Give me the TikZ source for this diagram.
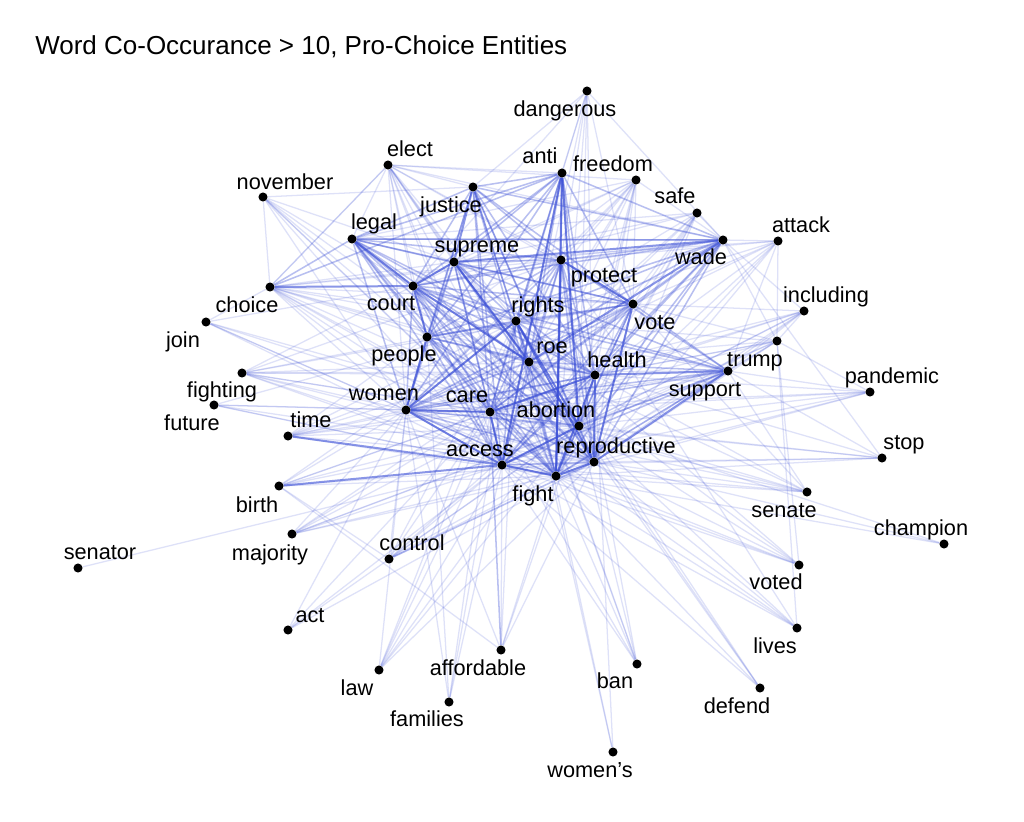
\documentclass[tikz,border=0pt]{standalone}
\usepackage{fontspec}
\setmainfont{Liberation Sans}
\usetikzlibrary{backgrounds}
\definecolor{edgeblue}{RGB}{60,80,215}
\tikzset{
  dot/.style={circle,fill=black,inner sep=0pt,minimum size=6.8pt},
  lbl/.style={anchor=base,inner sep=0pt,font=\fontsize{16.3}{18}\selectfont},
  ttl/.style={anchor=base west,inner sep=0pt,font=\fontsize{19.5}{22}\selectfont},
  eA/.style={draw=edgeblue,draw opacity=0.17,line width=0.95pt},
  eB/.style={draw=edgeblue,draw opacity=0.36,line width=1.15pt},
  eC/.style={draw=edgeblue,draw opacity=0.6,line width=1.5pt},
}
\begin{document}
\begin{tikzpicture}[x=0.75pt,y=-0.75pt]
\useasboundingbox (0,0) rectangle (1024,821);
\node[ttl] (title) at (35,54) {Word Co-Occurance > 10, Pro-Choice Entities};
% dots
\foreach \n/\x/\y in {dangerous/587/91, elect/388/165, anti/562/173, freedom/636/180,
  november/263/197, justice/473/187, safe/697/213, attack/778/241, legal/352/239,
  wade/723/240, supreme/454/262, protect/561/260, choice/270/287, court/413/286,
  rights/516/321, vote/633/304, including/804/311, join/206/322, people/427/337,
  roe/529/362, health/595/375, trump/777/341, fighting/242/373, support/728/371,
  pandemic/870/392, future/214/405, women/406/410, care/490/412, abortion/579/426,
  time/288/436, access/502/465, reproductive/594/462, stop/882/458, fight/556/476,
  birth/279/486, senate/807/492, majority/292/534, control/389/559, champion/944/544,
  senator/78/568, voted/799/565, act/288/630, lives/797/628, affordable/501/650,
  ban/637/664, law/379/670, families/449/702, defend/760/688, womens/613/752}
  \node[dot] (\n) at (\x,\y) {};
% labels
\foreach \n/\x/\y/\t in {dangerous/565/116/dangerous, elect/410/156/elect, anti/540/163/anti,
  freedom/613/171/freedom, november/285/189/november, justice/451/212/justice,
  safe/675/203/safe, attack/801/232/attack, legal/374/229/legal, wade/701/264/wade,
  supreme/477/252/supreme, protect/604/282/protect, choice/247/312/choice,
  court/391/310/court, rights/538/312/rights, vote/655/329/vote,
  including/826/302/including, join/183/347/join, people/404/361/people,
  roe/552/353/roe, health/617/367/health, trump/755/366/trump,
  fighting/222/397/fighting, support/705/396/support, pandemic/892/383/pandemic,
  future/192/430/future, women/384/400/women, care/467/402/care,
  abortion/556/417/abortion, time/311/427/time, access/480/456/access,
  reproductive/616/453/reproductive, stop/904/449/stop, fight/533/501/fight,
  birth/257/512/birth, senate/784/517/senate, majority/270/560/majority,
  control/412/550/control, champion/921/535/champion, senator/100/559/senator,
  voted/776/589/voted, act/310/622/act, lives/775/653/lives,
  affordable/478/675/affordable, ban/615/688/ban, law/357/695/law,
  families/427/726/families, defend/737/713/defend, womens/590/777/women’s}
  \node[lbl] (l-\n) at (\x,\y) {\t};
\begin{pgfonlayer}{background}
\fill[white] (0,0) rectangle (1024,821);
% core: all pairs
\foreach \a [count=\i] in {court,supreme,rights,roe,people,women,care,abortion,access,reproductive,fight,health,protect,vote}
  \foreach \b [count=\j] in {court,supreme,rights,roe,people,women,care,abortion,access,reproductive,fight,health,protect,vote}
    {\ifnum\j>\i \draw[eB] (\a) -- (\b); \fi}
% strong pairs
\foreach \a/\b in {supreme/court, roe/wade, reproductive/health, health/care, abortion/access,
  abortion/rights, reproductive/rights, women/rights, fight/protect, protect/vote, access/care,
  women/care, fight/reproductive, fight/access, roe/court, supreme/roe, birth/access,
  anti/abortion, anti/fight, anti/access, justice/supreme, women/access, support/health,
  people/women, court/people, vote/reproductive, health/fight, legal/court, wade/supreme,
  support/reproductive, choice/court, time/access}
  \draw[eC] (\a) -- (\b);
% hubs of the middle ring
\foreach \t in {court,supreme,rights,roe,people,women,care,abortion,access,reproductive,fight,health,protect,vote,wade,legal,choice}
  \draw[eB] (anti) -- (\t);
\foreach \t in {court,rights,roe,people,women,care,abortion,access,reproductive,fight,health,protect,vote,wade,anti,legal}
  \draw[eB] (justice) -- (\t);
\foreach \t in {court,supreme,rights,roe,access,fight,abortion,reproductive,care,people,women,justice,anti,freedom,protect,choice,legal,wade,vote}
  \draw[eA] (elect) -- (\t);
\foreach \t in {court,supreme,people,rights,roe,women,care,access,abortion,fight,reproductive,protect,health,vote,choice,wade}
  \draw[eB] (legal) -- (\t);
\foreach \t in {rights,roe,access,care,abortion,fight,reproductive,health,protect,vote,women,supreme,court,people,wade,legal}
  \draw[eA] (freedom) -- (\t);
\foreach \t in {court,rights,protect,vote,abortion,fight,access,care,health,reproductive,people,women,legal}
  \draw[eB] (wade) -- (\t);
\foreach \t in {abortion,access,care,reproductive,health,fight,rights,legal,wade,supreme,vote,roe,court}
  \draw[eA] (safe) -- (\t);
\foreach \t in {supreme,people,rights,roe,women,care,abortion,access,fight,reproductive,protect,health,vote,november,join,wade,support,elect}
  \draw[eA] (choice) -- (\t);
\foreach \t in {support,vote,abortion,fight,roe,rights,wade,women,health,reproductive,access,care}
  \draw[eA] (trump) -- (\t);
\foreach \t in {abortion,fight,access,care,vote,protect,women,rights,roe,court,supreme}
  \draw[eB] (support) -- (\t);
\foreach \t in {care,women,fight,reproductive,abortion,roe,health,rights,people,support,vote}
  \draw[eA] (time) -- (\t);
\foreach \t in {care,reproductive,women,abortion,fight,health,affordable,rights,control,support}
  \draw[eA] (birth) -- (\t);
\foreach \t in {women,care,access,abortion,fight,reproductive,rights,roe,health,protect,court,support,vote}
  \draw[eA] (fighting) -- (\t);
\foreach \t in {justice,court,people,care,access,fight,supreme,women,abortion}
  \draw[eA] (november) -- (\t);
\foreach \t in {court,justice,anti,roe,protect,fight,reproductive,wade,vote,abortion,rights}
  \draw[eA] (dangerous) -- (\t);
\foreach \t in {wade,protect,vote,roe,rights,abortion,reproductive,fight,health,trump,support,supreme}
  \draw[eA] (attack) -- (\t);
\foreach \t in {health,reproductive,abortion,access,care,fight,vote,support,women,wade,trump}
  \draw[eA] (including) -- (\t);
\foreach \t in {health,support,trump,reproductive,access,care,abortion,fight,women}
  \draw[eA] (pandemic) -- (\t);
\foreach \t in {reproductive,fight,abortion,access,health,support,wade,women}
  \draw[eA] (stop) -- (\t);
\foreach \t in {reproductive,fight,access,abortion,roe,vote,support,health,women,care}
  \draw[eA] (senate) -- (\t);
\foreach \t in {reproductive,fight,abortion}
  \draw[eA] (champion) -- (\t);
\foreach \t in {abortion,fight,access,care,women,roe,trump,rights}
  \draw[eA] (voted) -- (\t);
\foreach \t in {fight,reproductive,access,abortion,protect,trump,care}
  \draw[eA] (lives) -- (\t);
\foreach \t in {fight,roe,rights,access,abortion}
  \draw[eA] (defend) -- (\t);
\foreach \t in {abortion,roe,fight,rights,access,care,protect}
  \draw[eA] (ban) -- (\t);
\foreach \t in {roe,rights,health}
  \draw[eA] (womens) -- (\t);
\foreach \t in {care,women,access,rights,people}
  \draw[eA] (families) -- (\t);
\foreach \t in {access,health,women,reproductive,fight,rights}
  \draw[eA] (affordable) -- (\t);
\draw[eB] (affordable) -- (care);
\foreach \t in {care,access,abortion,women,health,rights,roe,reproductive}
  \draw[eA] (law) -- (\t);
\foreach \t in {access,care,women,abortion,reproductive}
  \draw[eA] (act) -- (\t);
\foreach \t in {access,care,abortion,health,women,support,fight,rights}
  \draw[eA] (control) -- (\t);
\draw[eB] (control) -- (reproductive);
\foreach \t in {access,care,women,abortion,reproductive,fight,vote,support,health}
  \draw[eA] (majority) -- (\t);
\foreach \t in {women,access,fight,care,reproductive,rights}
  \draw[eA] (future) -- (\t);
\foreach \t in {court,women,care,fight,access,abortion}
  \draw[eA] (join) -- (\t);
\draw[eA] (senator) -- (access);
\end{pgfonlayer}
\end{tikzpicture}
\end{document}
